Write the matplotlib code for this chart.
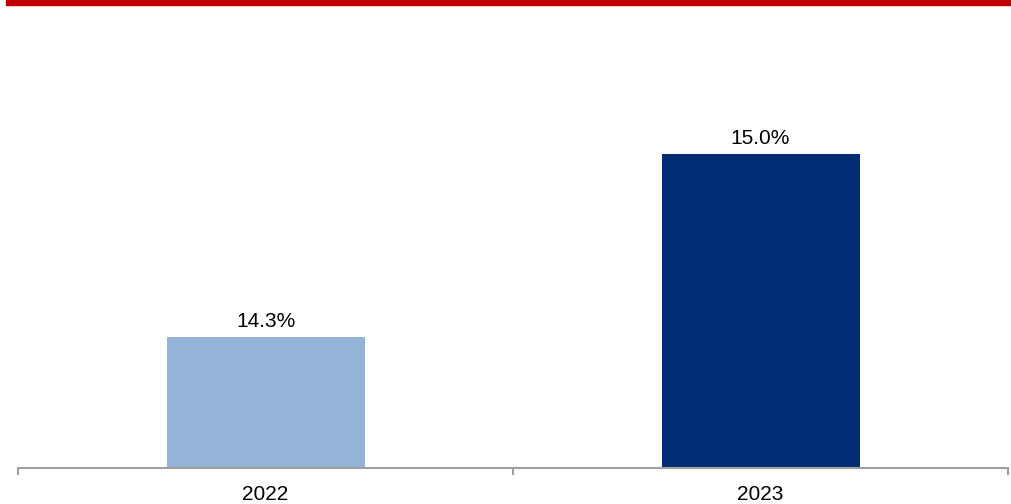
import matplotlib
matplotlib.use("Agg")
import matplotlib.pyplot as plt
from matplotlib.patches import Rectangle

categories = ["2022", "2023"]
values = [14.3, 15.0]
labels = ["14.3%", "15.0%"]
colors = ["#95B3D7", "#002C73"]

plt.rcParams['font.family'] = ['Liberation Sans', 'DejaVu Sans']

W, H = 1011, 504
fig = plt.figure(figsize=(W / 100, H / 100), dpi=100)
fig.patches.append(Rectangle((6 / W, 1 - 5 / H), 1, 5 / H, transform=fig.transFigure,
                             color="#C00000", zorder=5))

ax = fig.add_axes([18 / W, 1 - 468 / H, (1008 - 18) / W, (468 - 20) / H])
x = list(range(len(categories)))
ax.bar(x, values, width=0.40, color=colors, bottom=0)
ax.set_xlim(-0.5, len(categories) - 0.5)
ax.set_ylim(13.8, 13.8 + 448 / 261.4)

for xi, v, lab in zip(x, values, labels):
    ax.annotate(lab, (xi, v), xytext=(0, 4.5), textcoords="offset points",
                ha="center", va="bottom", fontsize=15, color="#000000")

for s in ["top", "right", "left"]:
    ax.spines[s].set_visible(False)
ax.spines["bottom"].set_color("#A0A0A0")
ax.spines["bottom"].set_linewidth(1.5)
ax.set_yticks([])
ax.set_xticks([-0.5, 0.5, 1.5], minor=False)
ax.set_xticklabels([])
ax.tick_params(axis="x", which="major", length=5, width=1.5, color="#A0A0A0", direction="out")
ax.set_xticks(x, minor=True)
ax.set_xticklabels(categories, minor=True, fontsize=15)
ax.tick_params(axis="x", which="minor", length=0, pad=12)

fig.savefig("out.png", dpi=100)
